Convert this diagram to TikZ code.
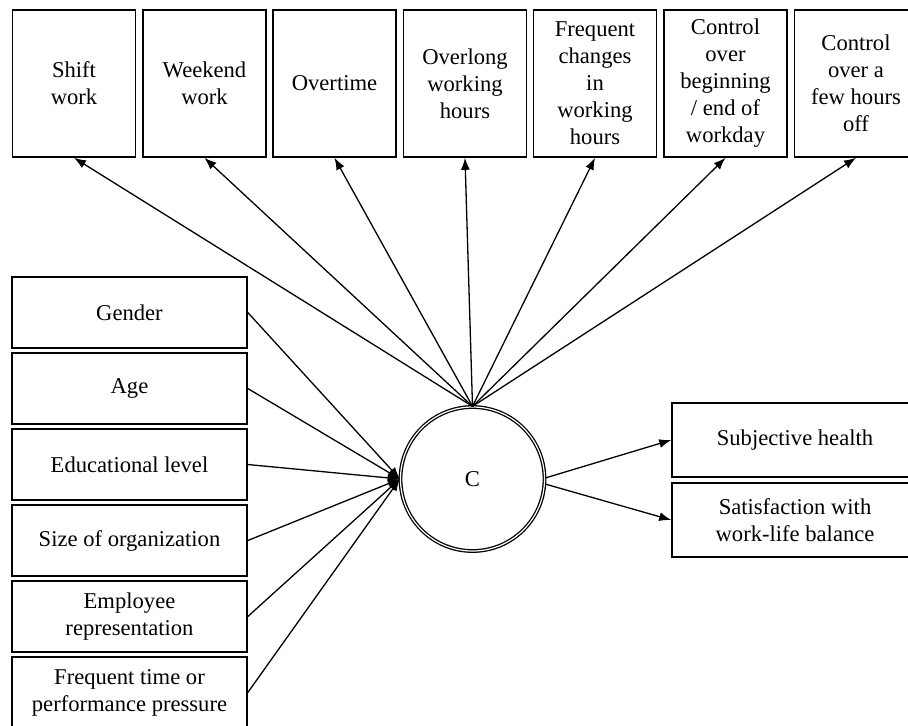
\documentclass[tikz,border=0pt]{standalone}
\usepackage{fontspec}
\setmainfont{Liberation Serif}
\usetikzlibrary{arrows.meta}

\begin{document}
\begin{tikzpicture}[x=0.5pt,y=-0.5pt,
    font=\fontsize{11.3}{13.5}\selectfont,
    topbox/.style={draw,line width=0.8pt,minimum width=61.5pt,minimum height=73.5pt,align=center,inner sep=0pt},
    leftbox/.style={draw,line width=0.8pt,minimum width=117.5pt,minimum height=35.5pt,align=center,inner sep=0pt},
    outbox/.style={draw,line width=0.8pt,minimum width=123pt,minimum height=37pt,align=center,inner sep=0pt},
    arr/.style={line width=0.65pt,-{Latex[length=6pt,width=4.5pt]}}]
    \useasboundingbox (0,0) rectangle (908,725);
    % working time arrangements
    \node (shift) at (74,83.5) [topbox] {Shift\\work};
    \node (weekend) at (204.5,83.5) [topbox] {Weekend\\work};
    \node (overtime) at (334.5,83.5) [topbox] {Overtime};
    \node (overlong) at (465,83.5) [topbox] {Overlong\\working\\hours};
    \node (changes) at (595,83.5) [topbox] {Frequent\\changes\\in\\working\\hours};
    \node (ctrlday) at (725.5,83.5) [topbox] {Control\\over\\beginning\\/ end of\\workday};
    \node (ctrloff) at (856,83.5) [topbox] {Control\\over a\\few hours\\off};
    % covariates
    \node (gender) at (129.5,312.5) [leftbox] {Gender};
    \node (age) at (129.5,388.5) [leftbox] {Age};
    \node (edu) at (129.5,464.5) [leftbox] {Educational level};
    \node (size) at (129.5,540.5) [leftbox] {Size of organization};
    \node (rep) at (129.5,616.5) [leftbox] {Employee\\representation};
    \node (press) at (129.5,692.5) [leftbox] {Frequent time or\\performance pressure};
    % latent class and outcomes
    \node (C) at (472.5,479) [circle,draw,double,line width=0.65pt,double distance=0.6pt,minimum size=72pt,inner sep=0pt] {C};
    \node (health) at (795,440) [outbox] {Subjective health};
    \node (wlb) at (795,520) [outbox] {Satisfaction with\\work-life balance};
    \draw[arr] (C.north) -- (shift.south);
    \draw[arr] (C.north) -- (weekend.south);
    \draw[arr] (C.north) -- (overtime.south);
    \draw[arr] (C.north) -- (overlong.south);
    \draw[arr] (C.north) -- (changes.south);
    \draw[arr] (C.north) -- (ctrlday.south);
    \draw[arr] (C.north) -- (ctrloff.south);
    \draw[arr] (gender.east) -- (C.west);
    \draw[arr] (age.east) -- (C.west);
    \draw[arr] (edu.east) -- (C.west);
    \draw[arr] (size.east) -- (C.west);
    \draw[arr] (rep.east) -- (C.west);
    \draw[arr] (press.east) -- (C.west);
    \draw[arr] ([yshift=0.5pt]C.east) -- (health.west);
    \draw[arr] ([yshift=-2.5pt]C.east) -- (wlb.west);
  \end{tikzpicture}
\end{document}
